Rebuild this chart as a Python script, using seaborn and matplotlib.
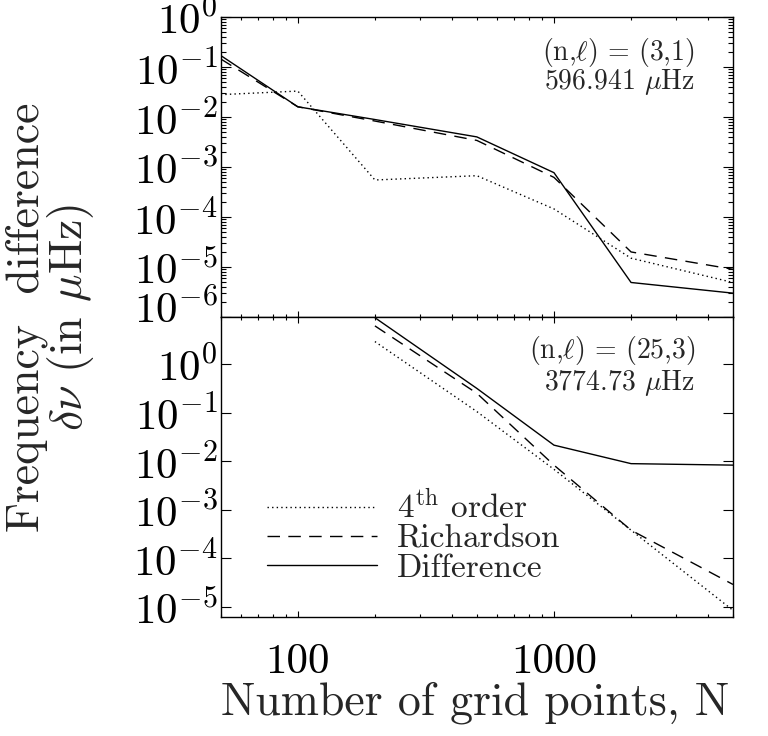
import numpy as np
import pandas as pd
import matplotlib
matplotlib.use("Agg")
import matplotlib.pyplot as plt
import matplotlib.ticker as mticker
import matplotlib.transforms as mtrans
import seaborn as sns

# ---------------- data ----------------
N_top = [50, 100, 200, 500, 1000, 2000, 5000]
top_4th = [2.8e-2, 3.3e-2, 5.5e-4, 6.7e-4, 1.45e-4, 1.5e-5, 4.9e-6]
top_rich = [1.45e-1, 1.6e-2, 8.3e-3, 3.4e-3, 6.2e-4, 2.0e-5, 9.0e-6]
top_diff = [1.7e-1, 1.6e-2, 8.9e-3, 4.0e-3, 7.7e-4, 4.9e-6, 3.0e-6]

N_bot = [200, 500, 1000, 2000, 5000]
bot_4th = [2.9, 0.105, 6.8e-3, 3.8e-4, 8.5e-6]
bot_rich = [6.1, 0.25, 8.3e-3, 3.8e-4, 2.9e-5]
bot_diff = [9.0, 0.315, 2.14e-2, 8.9e-3, 8.3e-3]

series_labels = [r"4$^{\rm th}$ order", "Richardson", "Difference"]
top_note = [r"(n,$\ell$) = (3,1)", r"596.941 $\mu$Hz"]
bot_note = [r"(n,$\ell$) = (25,3)", r"3774.73 $\mu$Hz"]
x_ticks = [100, 1000]
top_yexp = [0, -1, -2, -3, -4, -5, -6]
bot_yexp = [0, -1, -2, -3, -4, -5]

# ---------------- style ----------------
sns.set_style("ticks")
plt.rcParams["font.family"] = ["cmr10", "DejaVu Serif"]
plt.rcParams["mathtext.fontset"] = "cm"
plt.rcParams["axes.unicode_minus"] = False
plt.rcParams["axes.linewidth"] = 1.0
plt.rcParams["axes.edgecolor"] = "black"
plt.rcParams["xtick.color"] = "black"
plt.rcParams["ytick.color"] = "black"

styles = [(0, (1, 2.3)), (0, (9, 6)), "-"]

W, H = 768, 736
fig = plt.figure(figsize=(W / 100, H / 100), dpi=100)
L, R = 220.7, 733.0
ax1 = fig.add_axes([L / W, 1 - 317 / H, (R - L) / W, 300 / H])
ax2 = fig.add_axes([L / W, 1 - 617 / H, (R - L) / W, 300 / H])

for ax in (ax1, ax2):
    ax.set_xscale("log")
    ax.set_yscale("log")

top_df = pd.DataFrame({"N": N_top * 3,
                       "dnu": top_4th + top_rich + top_diff,
                       "method": np.repeat(series_labels, len(N_top))})
bot_df = pd.DataFrame({"N": N_bot * 3,
                       "dnu": bot_4th + bot_rich + bot_diff,
                       "method": np.repeat(series_labels, len(N_bot))})

for ax, df in ((ax1, top_df), (ax2, bot_df)):
    for lab, ls in zip(series_labels, styles):
        sub = df[df["method"] == lab]
        sns.lineplot(data=sub, x="N", y="dnu", ax=ax, color="black",
                     linewidth=1.0, linestyle=ls, estimator=None,
                     sort=False, label=lab, legend=False)
    ax.set_xlim(50, 5000)
    ax.set_xlabel("")
    ax.set_ylabel("")
    ax.set_facecolor("white")
    for s in ax.spines.values():
        s.set_visible(True)
        s.set_color("black")
        s.set_linewidth(1.0)

ax1.set_ylim(1e-6, 1.0)
ax2.set_ylim(6.2e-6, 9.3)

def fmt_pow(v, pos=None):
    e = int(round(np.log10(v)))
    return r"$10^{%d}$" % e

for ax in (ax1, ax2):
    ax.xaxis.set_major_locator(mticker.FixedLocator(x_ticks))
    ax.xaxis.set_minor_locator(mticker.LogLocator(base=10, subs=np.arange(2, 10), numticks=20))
    ax.xaxis.set_minor_formatter(mticker.NullFormatter())
    ax.tick_params(axis="x", which="major", direction="in", length=4.3, width=0.8,
                   top=True, bottom=True, pad=19, labelsize=31, color="black")
    ax.tick_params(axis="x", which="minor", direction="in", length=2.5, width=0.8,
                   top=True, bottom=True, color="black")
    ax.tick_params(axis="y", which="major", direction="in", length=7.2, width=0.8,
                   left=True, right=True, pad=2, labelsize=31, color="black")
    ax.tick_params(axis="y", which="minor", direction="in", length=3.6, width=0.8,
                   left=True, right=True, color="black")

ax1.xaxis.set_major_formatter(mticker.NullFormatter())
ax2.xaxis.set_major_formatter(mticker.FuncFormatter(lambda v, p: "%d" % v))

ax1.yaxis.set_major_locator(mticker.FixedLocator([10.0 ** e for e in top_yexp]))
ax1.yaxis.set_major_formatter(mticker.FuncFormatter(fmt_pow))
ax1.yaxis.set_minor_locator(mticker.LogLocator(base=10, subs=np.arange(2, 10), numticks=20))
ax1.yaxis.set_minor_formatter(mticker.NullFormatter())

ax2.yaxis.set_major_locator(mticker.FixedLocator([10.0 ** e for e in bot_yexp]))
ax2.yaxis.set_major_formatter(mticker.FuncFormatter(fmt_pow))
ax2.yaxis.set_minor_locator(mticker.NullLocator())

# annotations
xr = 0.926
ax1.text(xr, 0.857, top_note[0], transform=ax1.transAxes, ha="right", va="baseline", fontsize=20)
ax1.text(xr, 0.761, top_note[1], transform=ax1.transAxes, ha="right", va="baseline", fontsize=20)
ax2.text(xr, 0.862, bot_note[0], transform=ax2.transAxes, ha="right", va="baseline", fontsize=20)
ax2.text(xr, 0.758, bot_note[1], transform=ax2.transAxes, ha="right", va="baseline", fontsize=20)

# legend
handles = ax2.get_lines()[:3]
leg = ax2.legend(handles, series_labels, loc="upper left",
                 bbox_to_anchor=((267 - L) / (R - L), 1 - (490 - 317) / 300),
                 frameon=False, fontsize=24, handlelength=3.3, handletextpad=0.6,
                 labelspacing=0.0, borderpad=0, borderaxespad=0)

# axis labels
fig.text(((L + R) / 2 - 2) / W, 22 / H, "Number of grid points, N", ha="center",
         va="baseline", fontsize=33)
fig.text(27 / W, 1 - 317 / H, "Frequency  difference", rotation=90, ha="center",
         va="center", fontsize=33)
fig.text(71 / W, 1 - 317 / H, r"$\delta\nu$ (in $\mu$Hz)", rotation=90, ha="center",
         va="center", fontsize=33)

fig.canvas.draw()
# lift the lowest label of the upper panel, as in the original figure
ticks = ax1.yaxis.get_major_ticks()
lab = ticks[-1].label1
lab.set_transform(lab.get_transform() +
                  mtrans.ScaledTranslation(0, 11 / 100, fig.dpi_scale_trans))

fig.savefig("out.png", dpi=100, facecolor="white")
